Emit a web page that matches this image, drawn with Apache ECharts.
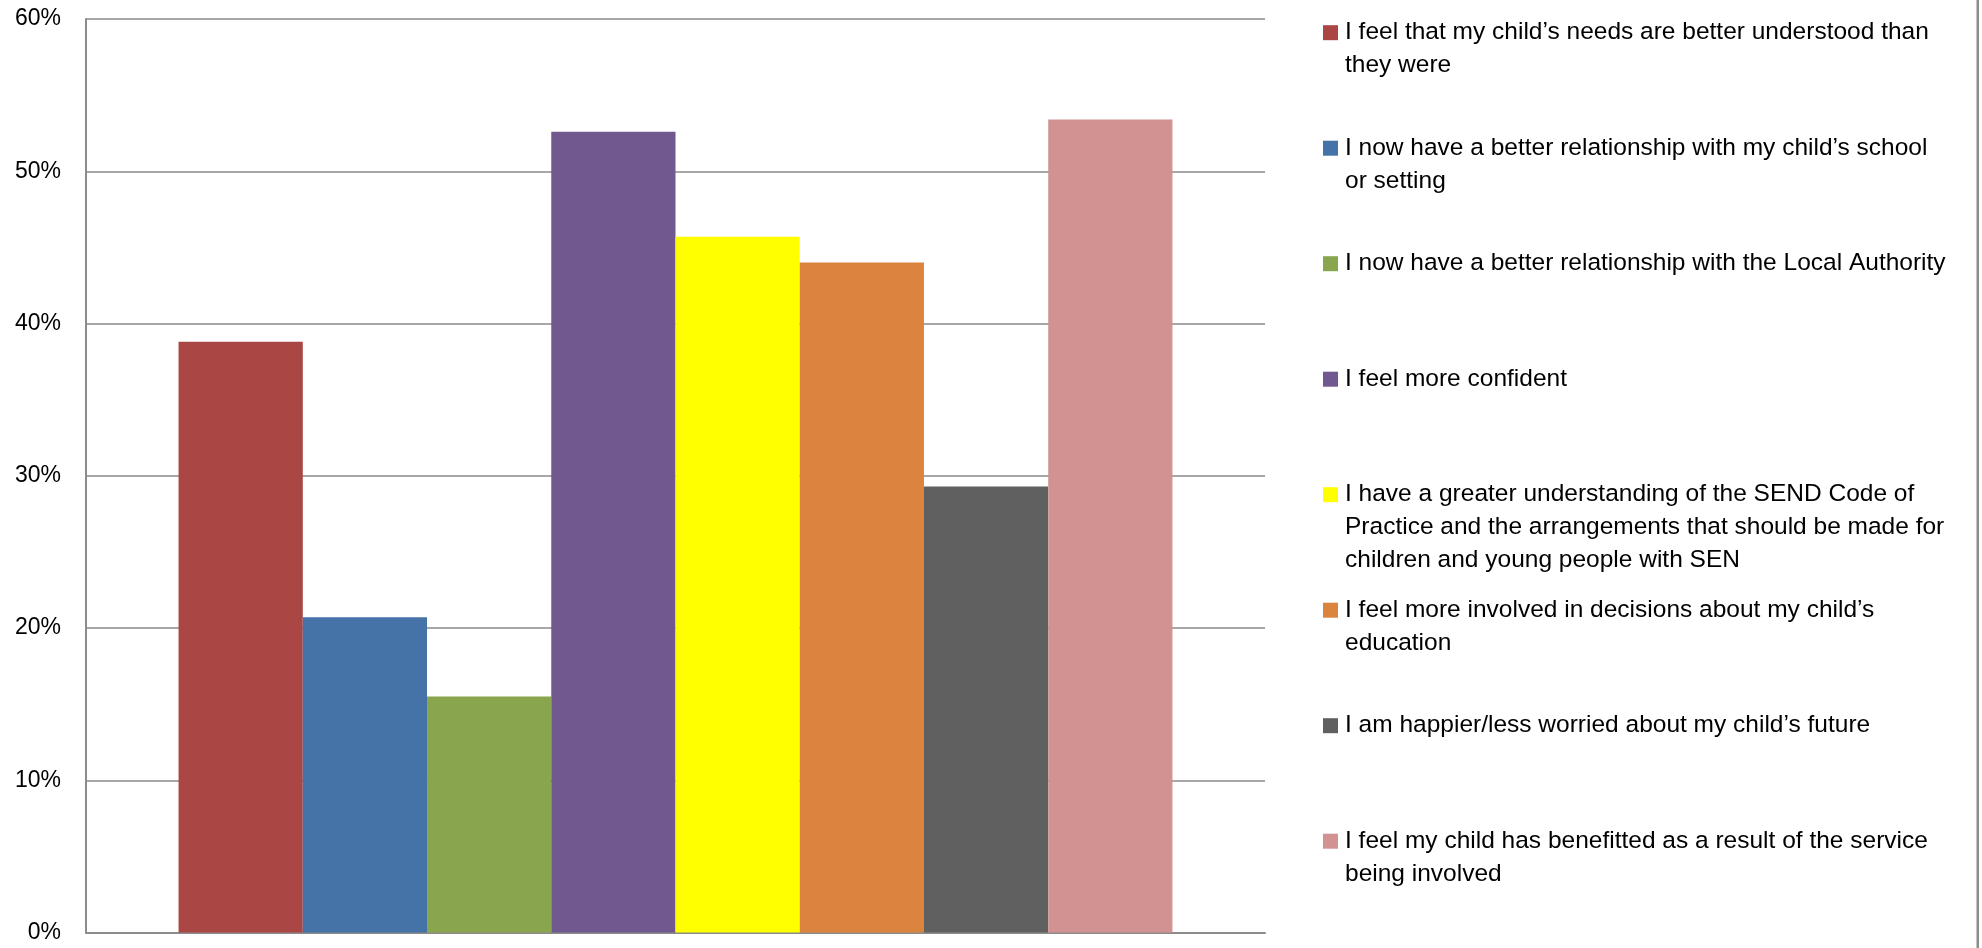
<!DOCTYPE html>
<html>
<head>
<meta charset="utf-8">
<script src="https://cdn.jsdelivr.net/npm/echarts@6/dist/echarts.min.js"></script>
<style>
  html, body { margin: 0; padding: 0; background: #fff; }
  #main { width: 1982px; height: 948px; }
</style>
</head>
<body>
<div id="main"></div>
<script>
// one category, one series per answer (like the original Excel chart)
var answers = [
  'I feel that my child\u2019s needs are better understood than\nthey were',
  'I now have a better relationship with my child\u2019s school\nor setting',
  'I now have a better relationship with the Local Authority',
  'I feel more confident',
  'I have a greater understanding of the SEND Code of\nPractice and the arrangements that should be made for\nchildren and young people with SEN',
  'I feel more involved in decisions about my child\u2019s\neducation',
  'I am happier/less worried about my child\u2019s future',
  'I feel my child has benefitted as a result of the service\nbeing involved'
];
var percents = [38.8, 20.7, 15.5, 52.6, 45.7, 44.0, 29.3, 53.4];
var colors = ['#AA4643', '#4572A7', '#89A54E', '#71588F', '#FFFF00', '#DB843D', '#606060', '#D29292'];
var yTicks = [0, 10, 20, 30, 40, 50, 60];

var LINE_H = 33;
var BOX_H = 165;

function lineCount(s) { return s.split('\n').length; }

var chart = echarts.init(document.getElementById('main'));

var series = answers.map(function (name, i) {
  return {
    name: name,
    type: 'bar',
    data: [percents[i]],
    itemStyle: { color: colors[i] },
    barGap: '0%',
    barCategoryGap: '15.7%',
    emphasis: { disabled: true }
  };
});

// legend text is centred on the square, so blank lines are put above the
// text to bring its first line level with the square; symmetric padding
// gives every entry the same box, hence an even pitch
var legendData = answers.map(function (name) {
  var shown = 2 * lineCount(name) - 1;
  var pad = (BOX_H - LINE_H * shown) / 2;
  return {
    name: name,
    textStyle: {
      backgroundColor: 'rgba(0,0,0,0)',
      padding: [pad, 0, pad, 2]
    }
  };
});

var option = {
  animation: false,
  backgroundColor: '#fff',
  grid: { left: 86, right: 717, top: 19, bottom: 15.5, containLabel: false },
  xAxis: {
    type: 'category',
    data: [''],
    axisTick: { show: false },
    axisLabel: { show: false },
    axisLine: { lineStyle: { color: '#8c8c8c', width: 2 } }
  },
  yAxis: {
    type: 'value',
    min: yTicks[0],
    max: yTicks[yTicks.length - 1],
    interval: 10,
    axisLine: { show: true, lineStyle: { color: '#8c8c8c', width: 2 } },
    axisTick: { show: false },
    axisLabel: {
      formatter: '{value}%',
      margin: 25,
      color: '#000',
      fontFamily: 'Liberation Sans',
      fontSize: 23
    },
    splitLine: { lineStyle: { color: '#8a8a8a', width: 1.5 } }
  },
  legend: {
    orient: 'vertical',
    left: 1323,
    top: 32.7 - BOX_H / 2,
    padding: 0,
    itemWidth: 15,
    itemHeight: 15,
    itemGap: 115.5 - BOX_H,
    icon: 'rect',
    selectedMode: false,
    formatter: function (name) {
      return new Array(lineCount(name)).join('\n') + name;
    },
    textStyle: {
      fontFamily: 'Liberation Sans',
      fontSize: 24.5,
      lineHeight: LINE_H,
      color: '#000'
    },
    data: legendData
  },
  graphic: [{
    type: 'rect',
    right: 3,
    top: 0,
    shape: { width: 2.5, height: 948 },
    style: { fill: '#8c8c8c' },
    silent: true
  }],
  series: series
};

chart.setOption(option);
</script>
</body>
</html>
